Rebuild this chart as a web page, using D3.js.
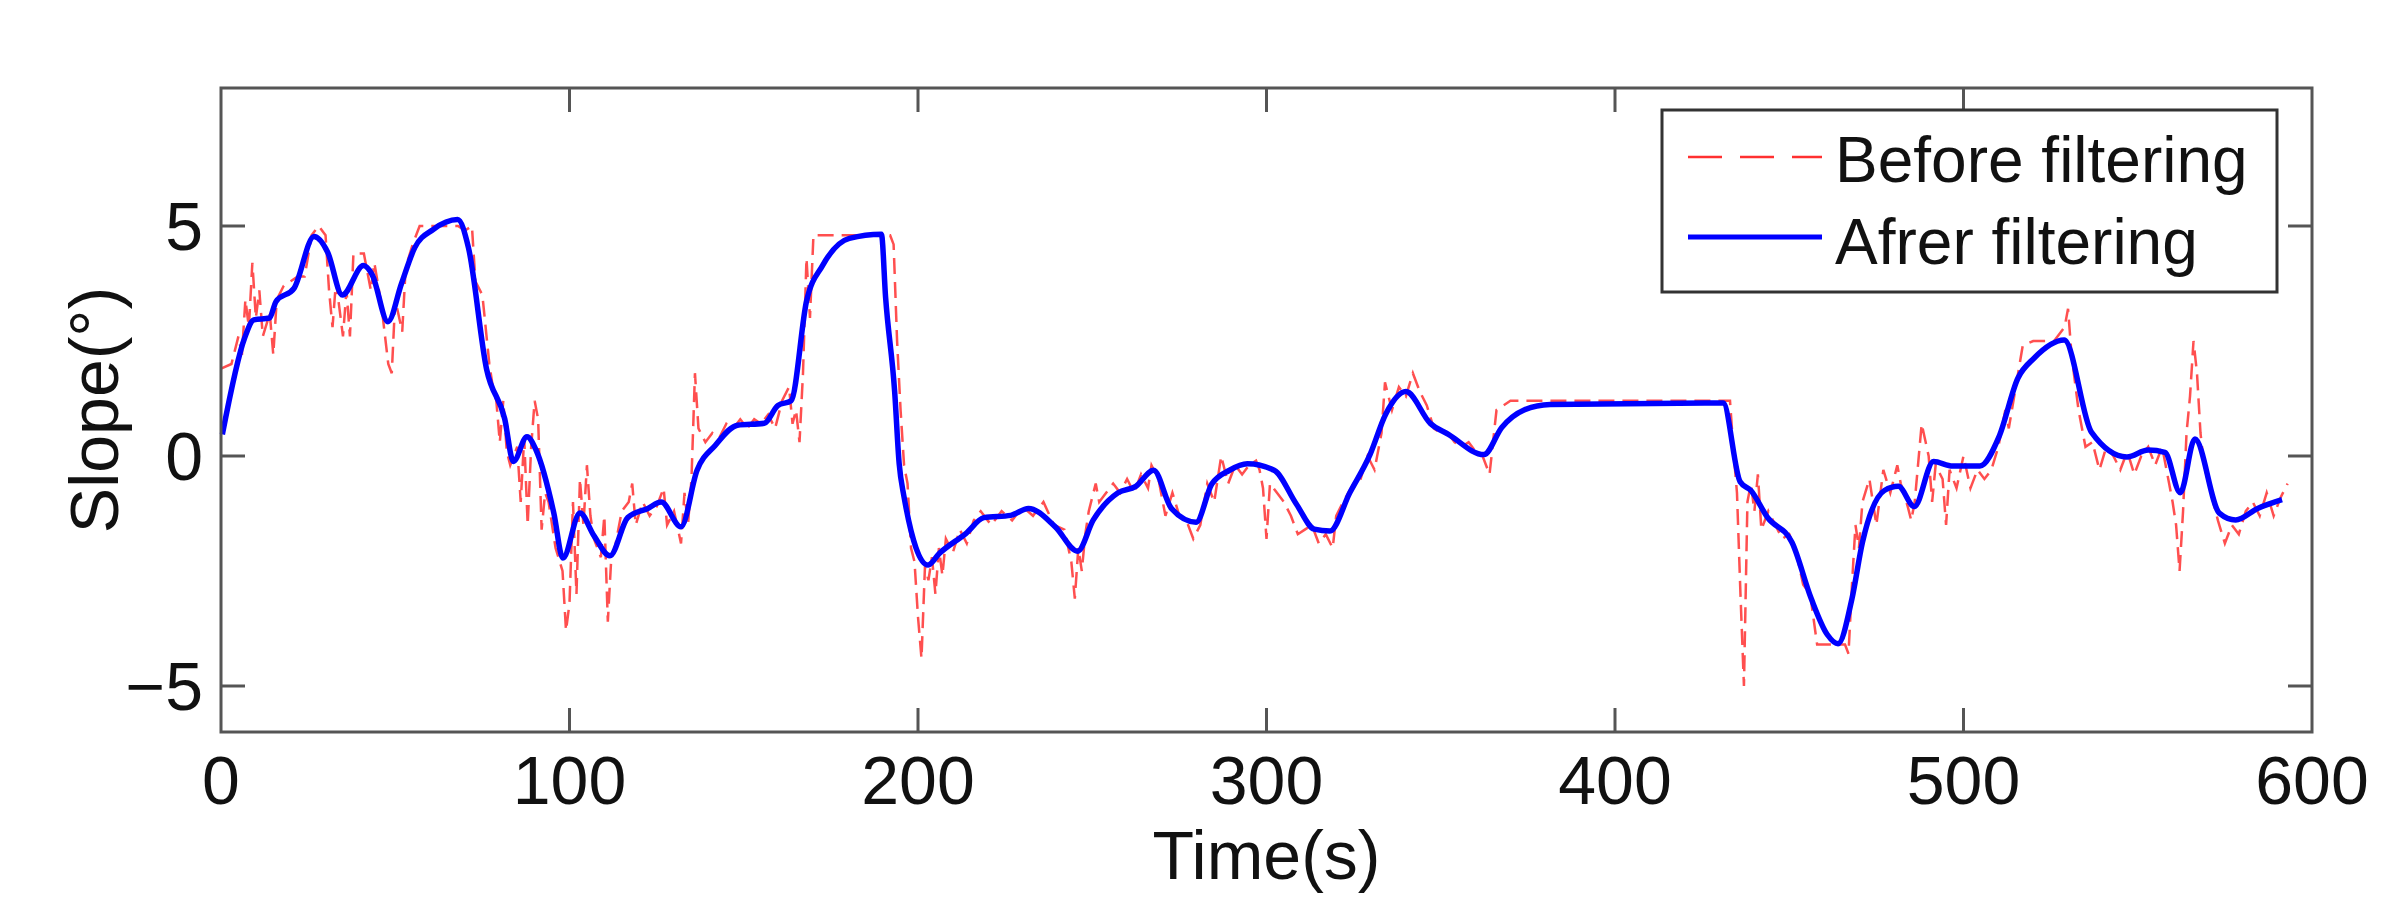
<!DOCTYPE html>
<html>
<head>
<meta charset="utf-8">
<script src="https://cdn.jsdelivr.net/npm/d3@7"></script>
<style>
  body { margin: 0; background: #fff; }
  text { font-family: "Liberation Sans", Arial, sans-serif; fill: #111; }
</style>
</head>
<body>
<div id="vis"></div>
<script>
// tick labels
let xTicks = [0, 100, 200, 300, 400, 500, 600];
let yTicks = [-5, 0, 5];

// filtered signal [time, slope]
let afterFiltering = [
  [0.4,0.47],[6.8,2.57],[9.4,2.96],[13.9,3.0],[15.8,3.36],[21,3.65],[26.7,4.77],[30.6,4.43],
  [34.8,3.5],[40.9,4.14],[43.4,3.94],[47.9,2.92],[51.8,3.75],[55.6,4.53],[60.8,4.92],[67.9,5.14],
  [71,4.53],[76.2,1.89],[81.4,0.81],[83.9,-0.12],[87.8,0.42],[90.4,0.13],[95.5,-1.24],[98.1,-2.22],
  [103,-1.24],[107,-1.73],[111.6,-2.17],[116.7,-1.34],[122.5,-1.14],[126.3,-1.0],[132,-1.54],
  [136.6,-0.31],[141.8,0.23],[148.2,0.67],[155.9,0.71],[159.8,1.1],[163.6,1.2],[168,3.36],
  [172.6,4.14],[180.3,4.73],[189.5,4.82],[190.7,3.45],[193.3,1.4],[194.6,-0.17],[195.9,-0.85],
  [202.9,-2.37],[206.1,-2.12],[213.8,-1.68],[218.9,-1.34],[226.6,-1.29],[231.7,-1.14],[239.4,-1.54],
  [245.8,-2.07],[250.3,-1.39],[257.4,-0.8],[262.5,-0.66],[267.6,-0.31],[272.7,-1.14],[279.8,-1.44],
  [284.3,-0.61],[289.4,-0.31],[294.5,-0.17],[302.2,-0.31],[308.6,-1.05],[313.7,-1.59],[318.2,-1.63],
  [323.9,-0.8],[329.7,0.03],[334.2,0.91],[340,1.4],[347,0.71],[352.2,0.47],[362.4,0.03],[367.5,0.62],
  [373.9,1.0],[381.4,1.12],[431,1.15],[435.9,-0.56],[439,-0.75],[443.8,-1.34],[450.8,-1.88],
  [456.3,-3.1],[460.9,-3.88],[464,-4.08],[468,-3.1],[471,-1.88],[477.3,-0.75],[481.3,-0.66],
  [485.9,-1.1],[491.4,-0.12],[496.9,-0.22],[504.7,-0.22],[510.2,0.42],[515.6,1.69],[520.3,2.13],
  [528.9,2.52],[536.7,0.52],[546.9,-0.02],[553,0.13],[557.8,0.08],[562.2,-0.8],[566.4,0.37],
  [573.4,-1.24],[578.1,-1.39],[584.4,-1.14],[591.4,-0.95]
];

// raw signal [time, slope]
let beforeFiltering = [
  [0,1.9],[3,2.0],[5,2.6],[6,2.2],[7,3.4],[8,2.8],[9,4.2],[10,3.0],[11,3.6],[12,2.6],[14,3.1],[15,2.2],
  [16,3.4],[18,3.7],[20,3.8],[22,3.9],[24,3.9],[26,4.8],[28,5.0],[30,4.8],[31,3.6],[32,2.8],[33,3.8],
  [35,2.6],[36,3.6],[37,2.6],[38,4.4],[41,4.4],[43,3.6],[44,4.2],[46,3.3],[48,2.0],[49,1.8],[50,3.4],
  [52,2.7],[53,4.1],[55,4.6],[57,5.0],[62,5.0],[68,5.0],[70,4.9],[72,5.0],[73,3.8],[75,3.5],[77,2.0],
  [78,1.5],[79,1.2],[80,0.3],[81,1.2],[82,0.1],[83,-0.2],[85,0.2],[86,-1.0],[87,0.4],[88,-1.5],[89,0.2],
  [90,1.2],[91,0.8],[92,-1.6],[93,-0.8],[94,-1.0],[96,-2.0],[98,-2.5],[99,-3.8],[100,-3.2],[101,-1.0],
  [102,-3.0],[103,-0.5],[104,-1.5],[105,-0.2],[106,-1.3],[107,-1.8],[109,-2.2],[110,-1.3],[111,-3.6],
  [112,-2.2],[113,-2.0],[115,-1.2],[117,-1.0],[118,-0.6],[119,-1.5],[121,-1.0],[123,-1.3],[125,-1.1],
  [127,-0.7],[128,-1.5],[130,-1.2],[132,-1.9],[133,-0.8],[134,-1.5],[135,-0.5],[136,1.8],[137,0.6],
  [139,0.3],[141,0.5],[143,0.4],[145,0.7],[147,0.6],[149,0.8],[151,0.6],[153,0.8],[155,0.7],[157,0.9],
  [159,0.6],[161,1.2],[163,1.5],[164,0.7],[165,1.0],[166,0.3],[167,1.8],[168,4.3],[169,3.0],[170,4.8],
  [175,4.8],[180,4.8],[185,4.8],[190,4.8],[192,4.8],[193,4.6],[194,2.5],[195,1.0],[196,-0.2],[197,-0.6],
  [198,-2.0],[199,-2.3],[200,-3.5],[201,-4.4],[202,-2.4],[203,-2.7],[204,-2.2],[205,-3.0],[206,-2.0],
  [207,-2.6],[208,-1.8],[210,-2.1],[212,-1.6],[214,-1.9],[216,-1.4],[218,-1.2],[221,-1.5],[224,-1.2],
  [227,-1.4],[230,-1.1],[233,-1.3],[236,-1.0],[239,-1.5],[242,-1.6],[244,-2.3],[245,-3.1],[246,-2.0],
  [247,-2.5],[248,-1.7],[249,-1.2],[251,-0.6],[252,-1.0],[254,-0.8],[256,-0.6],[258,-0.8],[260,-0.5],
  [262,-0.8],[264,-0.4],[266,-0.7],[267,-0.2],[269,-0.5],[271,-1.3],[273,-0.8],[275,-1.3],[277,-1.4],
  [279,-1.8],[281,-1.5],[283,-0.6],[285,-1.0],[287,0.0],[289,-0.6],[291,-0.2],[293,-0.4],[295,-0.2],
  [297,-0.1],[298,-0.3],[299,-0.7],[300,-1.8],[301,-0.6],[303,-0.8],[305,-1.0],[307,-1.3],[309,-1.7],
  [311,-1.6],[313,-1.5],[315,-1.9],[317,-1.7],[319,-2.0],[320,-1.3],[322,-1.0],[325,-0.6],[327,-0.5],
  [329,0.0],[331,-0.3],[333,0.5],[334,1.6],[336,1.0],[338,1.5],[340,1.3],[342,1.8],[344,1.4],[346,1.1],
  [348,0.6],[350,0.5],[352,0.5],[354,0.3],[356,0.2],[358,0.3],[360,0.1],[362,0.0],[364,-0.4],[365,0.3],
  [366,1.0],[368,1.1],[370,1.2],[375,1.2],[380,1.2],[390,1.2],[400,1.2],[420,1.2],[431,1.2],[433,1.2],
  [434,0.1],[435,-0.8],[436,-3.0],[437,-5.0],[438,-1.0],[439,-0.6],[440,-1.2],[441,-0.4],[442,-1.6],
  [444,-1.2],[446,-1.5],[448,-1.8],[450,-1.7],[452,-2.1],[454,-2.8],[456,-3.0],[458,-4.1],[462,-4.1],
  [466,-4.1],[467,-4.3],[468,-2.8],[469,-1.5],[470,-2.0],[471,-1.0],[473,-0.5],[475,-1.5],[477,-0.3],
  [479,-0.8],[481,-0.2],[482,-0.6],[484,-1.1],[485,-1.4],[486,-1.0],[488,0.7],[490,0.0],[491,-1.0],
  [492,-0.2],[494,-0.5],[495,-1.5],[496,-0.3],[498,-0.7],[500,0.0],[502,-0.7],[504,-0.3],[506,-0.5],
  [508,-0.3],[510,0.2],[512,1.0],[513,0.6],[515,1.5],[517,2.4],[520,2.5],[523,2.5],[526,2.5],[529,2.8],
  [530,3.2],[531,2.2],[533,1.0],[535,0.2],[537,0.3],[539,-0.3],[541,0.2],[543,0.0],[545,-0.3],[547,0.1],
  [549,-0.4],[551,0.0],[553,0.2],[555,-0.2],[557,0.2],[559,-0.6],[560,-1.0],[561,-1.5],[562,-2.5],
  [563,-1.2],[564,0.5],[565,1.3],[566,2.5],[567,1.8],[568,0.5],[569,-0.2],[571,-0.8],[573,-1.4],
  [575,-1.9],[577,-1.5],[579,-1.7],[581,-1.2],[583,-1.0],[585,-1.3],[587,-0.8],[589,-1.3],[591,-0.9],
  [593,-0.6]
];

let seriesNames = ['Before filtering', 'Afrer filtering'];

let W = 2400, H = 917;
let margin = { top: 88, left: 221, right: 88, bottom: 185 };

let svg = d3.select('#vis').append('svg')
  .attr('width', W).attr('height', H)
  .style('background-color', 'white');

let x = d3.scaleLinear().domain([0, 600]).range([margin.left, W - margin.right]);
let y = d3.scaleLinear().domain([-6, 8]).range([H - margin.bottom, margin.top]);

let line = d3.line().x(d => x(d[0])).y(d => y(d[1]));

// data lines
svg.append('path').datum(beforeFiltering)
  .attr('d', line).attr('fill', 'none')
  .attr('stroke', '#ff3030').attr('stroke-width', 2.5)
  .attr('stroke-opacity', 0.85)
  .attr('stroke-dasharray', '16,8');

svg.append('path').datum(afterFiltering)
  .attr('d', line.curve(d3.curveMonotoneX)).attr('fill', 'none')
  .attr('stroke', '#0000ff').attr('stroke-width', 5.5)
  .attr('stroke-linejoin', 'round');

// frame + ticks (matlab box style, ticks inward on all sides)
let axisColor = '#555';
let tickLen = 24;
svg.append('rect')
  .attr('x', x(0)).attr('y', y(8))
  .attr('width', x(600) - x(0)).attr('height', y(-6) - y(8))
  .attr('fill', 'none').attr('stroke', axisColor).attr('stroke-width', 3);

xTicks.slice(1, -1).forEach(t => {
  svg.append('line').attr('x1', x(t)).attr('x2', x(t))
    .attr('y1', y(-6)).attr('y2', y(-6) - tickLen)
    .attr('stroke', axisColor).attr('stroke-width', 3);
  svg.append('line').attr('x1', x(t)).attr('x2', x(t))
    .attr('y1', y(8)).attr('y2', y(8) + tickLen)
    .attr('stroke', axisColor).attr('stroke-width', 3);
});
yTicks.forEach(t => {
  svg.append('line').attr('x1', x(0)).attr('x2', x(0) + tickLen)
    .attr('y1', y(t)).attr('y2', y(t))
    .attr('stroke', axisColor).attr('stroke-width', 3);
  svg.append('line').attr('x1', x(600)).attr('x2', x(600) - tickLen)
    .attr('y1', y(t)).attr('y2', y(t))
    .attr('stroke', axisColor).attr('stroke-width', 3);
});

// tick labels
svg.selectAll('.xl').data(xTicks).enter().append('text')
  .attr('x', d => x(d)).attr('y', 804)
  .attr('text-anchor', 'middle').attr('font-size', 68)
  .text(d => d);
svg.selectAll('.yl').data(yTicks).enter().append('text')
  .attr('x', 203).attr('y', d => y(d) + 24)
  .attr('text-anchor', 'end').attr('font-size', 68)
  .text(d => d < 0 ? '\u2212' + Math.abs(d) : d);

// axis titles
svg.append('text').attr('x', x(300)).attr('y', 879)
  .attr('text-anchor', 'middle').attr('font-size', 68).text('Time(s)');
svg.append('text').attr('transform', 'translate(118,' + y(1) + ') rotate(-90)')
  .attr('text-anchor', 'middle').attr('font-size', 68).text('Slope(\u00b0)');

// legend
let lg = svg.append('g');
lg.append('rect').attr('x', 1662).attr('y', 110).attr('width', 615).attr('height', 182)
  .attr('fill', 'white').attr('stroke', '#333').attr('stroke-width', 3);
lg.append('line').attr('x1', 1688).attr('x2', 1822).attr('y1', 157).attr('y2', 157)
  .attr('stroke', '#ff3030').attr('stroke-width', 2.5).attr('stroke-dasharray', '34,18');
lg.append('line').attr('x1', 1688).attr('x2', 1822).attr('y1', 237).attr('y2', 237)
  .attr('stroke', '#0000ff').attr('stroke-width', 5);
lg.append('text').attr('x', 1835).attr('y', 182).attr('font-size', 64).text(seriesNames[0]);
lg.append('text').attr('x', 1835).attr('y', 264).attr('font-size', 64).text(seriesNames[1]);
</script>
</body>
</html>
